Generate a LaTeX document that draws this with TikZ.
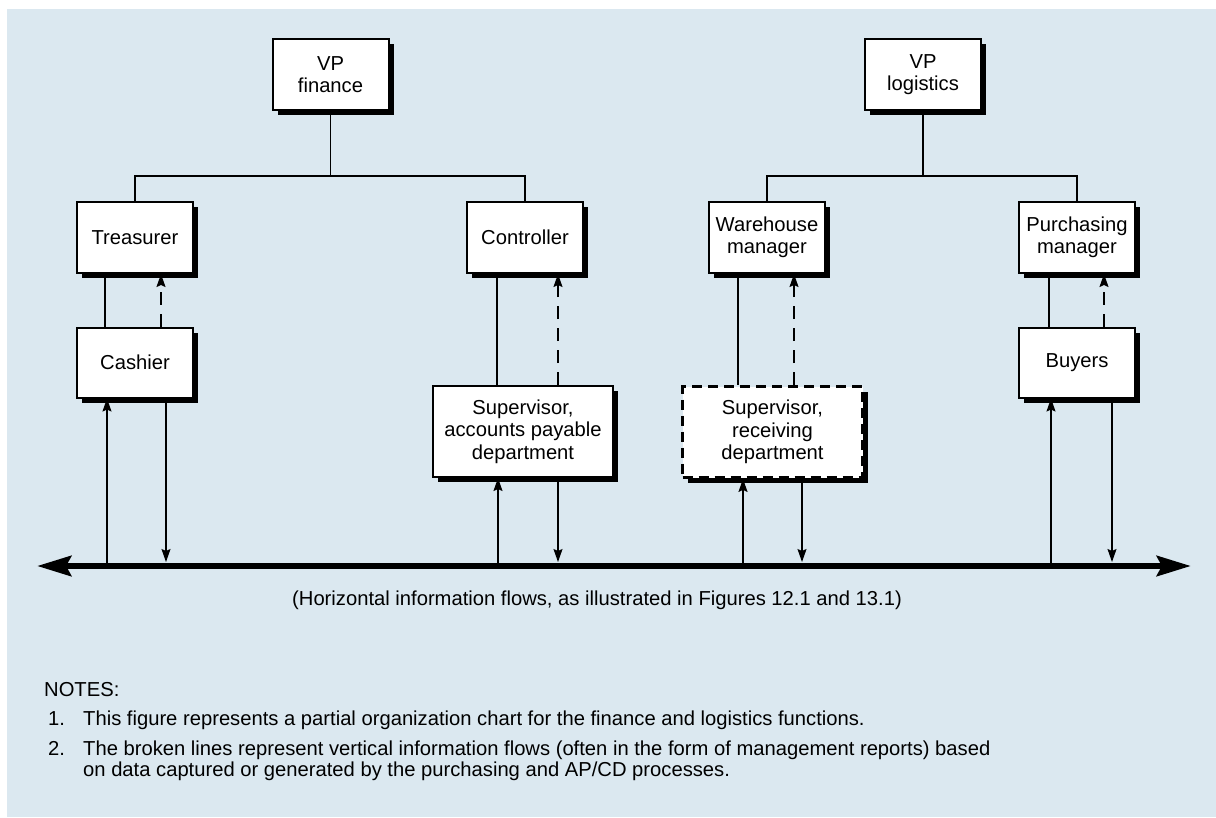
\documentclass[tikz,border=0pt]{standalone}
\usepackage{fontspec}
\setmainfont{Liberation Sans}
\usetikzlibrary{arrows.meta,shadows,calc}
\definecolor{bgblue}{RGB}{219,232,240}
\begin{document}
\begin{tikzpicture}[x=1pt,y=-1pt,
  font=\fontsize{20.2}{22.5}\selectfont,
  box/.style={draw=black, line width=2pt, fill=white, minimum width=116pt,
    minimum height=71pt, align=center, inner sep=0pt,
    drop shadow={shadow xshift=5pt, shadow yshift=-5pt, fill=black, opacity=1}},
  widebox/.style={box, minimum width=180pt, minimum height=91pt},
  dashbox/.style={widebox, dash pattern=on 10pt off 6pt, line width=2.8pt},
  conn/.style={line width=1.3pt},
  flow/.style={line width=1.3pt, dash pattern=on 13pt off 9pt, -{Stealth[length=13pt,width=9pt,inset=2pt]}},
  arr/.style={line width=1.3pt, -{Stealth[length=13pt,width=9pt,inset=2pt]}},
  bus/.style={line width=6.5pt, {Stealth[length=34pt,width=20pt,inset=5pt]}-{Stealth[length=34pt,width=20pt,inset=5pt]}},
  txt/.style={anchor=base west, inner sep=0pt}
]
\useasboundingbox (0,0) rectangle (1216,817);
\fill[bgblue] (7,9) rectangle (1216,817);

% boxes
\node[box] (vpf) at (330.5,74.5) {VP\\finance};
\node[box] (vpl) at (923,74.5) {VP\\logistics};
\node[box] (tre) at (135,237.5) {Treasurer};
\node[box] (con) at (525,237.5) {Controller};
\node[box] (war) at (767,237.5) {Warehouse\\manager};
\node[box] (pur) at (1077,237.5) {Purchasing\\manager};
\node[box, minimum height=70pt] (cas) at (135,362.5) {Cashier};
\node[box, minimum height=70pt] (buy) at (1077,362.5) {Buyers};
\node[widebox] (ap) at (523,431.5) {Supervisor,\\accounts payable\\department};
\node[dashbox] (rec) at (772.5,432) {Supervisor,\\receiving\\department};

% hierarchy
\coordinate (jf) at (330.5,176);
\coordinate (jl) at (923,176);
\draw[conn] (vpf.south) -- (jf);
\draw[conn] (tre.north) -- (tre.north |- jf) -- (con.north |- jf) -- (con.north);
\draw[conn] (vpl.south) -- (jl);
\draw[conn] (war.north) -- (war.north |- jl) -- (pur.north |- jl) -- (pur.north);

% vertical links
\coordinate (s1) at (105,0);  \coordinate (d1) at (161,0);
\coordinate (s2) at (497,0);  \coordinate (d2) at (558,0);
\coordinate (s3) at (738,0);  \coordinate (d3) at (794,0);
\coordinate (s4) at (1049,0); \coordinate (d4) at (1104,0);
\draw[conn] (tre.south -| s1) -- (cas.north -| s1);
\draw[flow] (cas.north -| d1) -- (tre.south -| d1);
\draw[conn] (con.south -| s2) -- (ap.north -| s2);
\draw[flow] (ap.north -| d2) -- (con.south -| d2);
\draw[conn] (war.south -| s3) -- (rec.north -| s3);
\draw[flow] (rec.north -| d3) -- (war.south -| d3);
\draw[conn] (pur.south -| s4) -- (buy.north -| s4);
\draw[flow] (buy.north -| d4) -- (pur.south -| d4);

% bus
\coordinate (busL) at (37,566);
\coordinate (busR) at (1191,566);
\draw[bus] (busL) -- (busR);
\coordinate (u1) at (107,566); \coordinate (w1) at (166,562);
\coordinate (u2) at (498,566); \coordinate (w2) at (558,562);
\coordinate (u3) at (743,566); \coordinate (w3) at (802,562);
\coordinate (u4) at (1051,566); \coordinate (w4) at (1112,562);
\draw[arr] (u1) -- (u1 |- cas.south);
\draw[arr] (w1 |- cas.south) -- (w1);
\draw[arr] (u2) -- (u2 |- ap.south);
\draw[arr] (w2 |- ap.south) -- (w2);
\draw[arr] (u3) -- (u3 |- rec.south);
\draw[arr] (w3 |- rec.south) -- (w3);
\draw[arr] (u4) -- (u4 |- buy.south);
\draw[arr] (w4 |- buy.south) -- (w4);

% caption and notes
\node[txt] (cap) at (292,605) {(Horizontal information flows, as illustrated in Figures 12.1 and 13.1)};
\node[txt] (notes) at (44,696) {NOTES:};
\node[txt] (n1) at (48,725) {1.};
\node[txt] (n1t) at (83,725) {This figure represents a partial organization chart for the finance and logistics functions.};
\node[txt] (n2) at (48,755) {2.};
\node[txt] (n2t) at (83,755) {The broken lines represent vertical information flows (often in the form of management reports) based};
\node[txt] (n2u) at (83,776) {on data captured or generated by the purchasing and AP/CD processes.};
\end{tikzpicture}
\end{document}
